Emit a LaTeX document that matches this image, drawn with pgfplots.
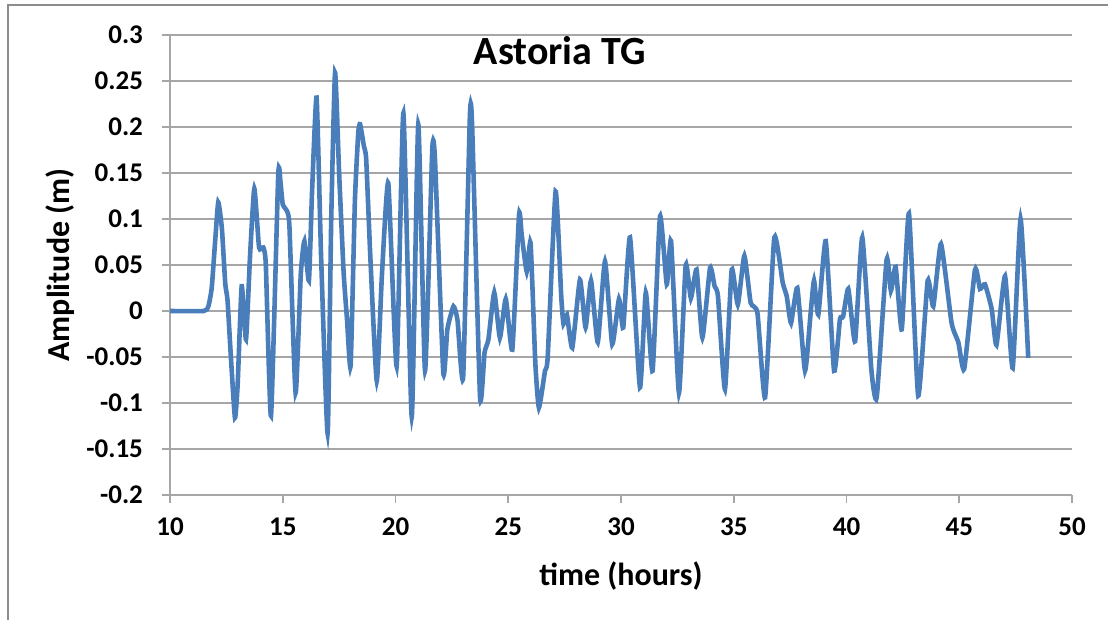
\documentclass[border=0pt]{standalone}
\usepackage{fontspec}
\setmainfont{Carlito}
\usepackage{pgfplots}
\pgfplotsset{compat=1.18}
\definecolor{xlblue}{HTML}{4A7EBB}
\definecolor{gridgray}{HTML}{A6A6A6}
\definecolor{framegray}{HTML}{8C8C8C}
\begin{document}
\begin{tikzpicture}
\begin{axis}[
    at={(0,0)}, anchor=south west,
    scale only axis,
    width=451pt, height=230pt,
    xmin=10, xmax=50, ymin=-0.2, ymax=0.3,
    xtick={10,15,...,50},
    ytick={-0.2,-0.15,...,0.31},
    ymajorgrids,
    major grid style={gridgray, line width=0.8pt},
    axis x line*=bottom, axis y line*=left,
    axis line style={gridgray, line width=0.8pt, -},
    tick style={gridgray, line width=0.8pt},
    tick align=outside, major tick length=4pt,
    /pgf/number format/assume math mode=true,
    /pgf/number format/fixed, /pgf/number format/precision=2,
    ticklabel style={font=\fontsize{13.5}{15}\selectfont\bfseries},
    xticklabel style={yshift=-4pt},
    yticklabel style={xshift=-6pt},
    xlabel={time (hours)}, ylabel={Amplitude (m)},
    label style={font=\fontsize{16}{19}\selectfont\bfseries},
    xlabel style={yshift=-6pt},
    ylabel style={yshift=-1pt},
    title={Astoria TG},
    title style={at={(0.432,0.94)}, anchor=center, font=\fontsize{20}{24}\selectfont\bfseries},
]
\addplot[xlblue, line width=2.3pt, smooth, tension=0.3] coordinates {
(10,0) (11.5,0) (11.7,0.005) (11.85,0.025) (12.0,0.075) (12.14,0.118) (12.3,0.09)
(12.45,0.03) (12.55,0.012) (12.7,-0.05) (12.88,-0.116) (13.0,-0.08) (13.18,0.027)
(13.37,-0.031) (13.55,0.06) (13.74,0.133) (13.95,0.069) (14.14,0.069) (14.25,0.05)
(14.48,-0.114) (14.80,0.148) (14.9,0.14) (15.0,0.116) (15.2,0.108) (15.3,0.09)
(15.57,-0.089) (15.8,0.04) (15.96,0.076) (16.16,0.033) (16.3,0.13) (16.50,0.232)
(16.7,0.06) (16.99,-0.133) (17.15,0.1) (17.32,0.259) (17.5,0.15) (17.7,0.042)
(17.85,-0.009) (18.01,-0.06) (18.2,0.12) (18.35,0.194) (18.43,0.203) (18.6,0.179)
(18.7,0.165) (18.9,0.05) (19.17,-0.076) (19.4,0.04) (19.68,0.139) (20.05,-0.06)
(20.35,0.215) (20.72,-0.115) (21.01,0.203) (21.31,-0.065) (21.63,0.175) (21.75,0.165)
(22.12,-0.067) (22.3,-0.02) (22.57,0.005) (22.75,-0.01) (23.0,-0.072) (23.3,0.213)
(23.4,0.2) (23.75,-0.094) (23.95,-0.045) (24.12,-0.031) (24.38,0.02) (24.63,-0.029)
(24.89,0.013) (25.18,-0.042) (25.48,0.105) (25.6,0.082) (25.82,0.043) (25.99,0.074)
(26.2,-0.056) (26.36,-0.105) (26.63,-0.065) (26.75,-0.05) (27.1,0.13) (27.35,0.016)
(27.45,-0.014) (27.6,-0.004) (27.84,-0.04) (28.18,0.034) (28.43,-0.018) (28.67,0.033)
(28.97,-0.034) (29.29,0.054) (29.61,-0.036) (29.91,0.013) (30.1,-0.018) (30.4,0.08)
(30.84,-0.083) (31.1,0.02) (31.4,-0.065) (31.73,0.103) (32.03,0.029) (32.22,0.076)
(32.57,-0.089) (32.87,0.05) (33.1,0.014) (33.35,0.045) (33.61,-0.029) (33.95,0.047)
(34.15,0.027) (34.3,0.016) (34.61,-0.085) (34.91,0.045) (35.18,0.007) (35.47,0.06)
(35.75,0.009) (36.05,-0.002) (36.39,-0.094) (36.8,0.08) (37.17,0.031) (37.35,0.016)
(37.54,-0.013) (37.82,0.025) (38.16,-0.065) (38.4,-0.005) (38.56,0.033) (38.75,-0.004)
(39.08,0.076) (39.45,-0.065) (39.71,-0.009) (39.85,-0.006) (40.08,0.024) (40.38,-0.033)
(40.70,0.08) (41.1,-0.063) (41.34,-0.094) (41.78,0.056) (41.97,0.022) (42.18,0.048)
(42.45,-0.02) (42.77,0.106) (43.18,-0.092) (43.6,0.033) (43.85,0.005) (44.19,0.073)
(44.66,-0.013) (44.96,-0.034) (45.22,-0.063) (45.7,0.045) (45.92,0.024) (46.14,0.029)
(46.44,0.002) (46.65,-0.037) (47.03,0.038) (47.37,-0.062) (47.72,0.1) (48.06,-0.051)
};
\end{axis}
% chart frame (top and left edges visible)
\draw[framegray, line width=1pt] (-81pt,-62.5pt) -- (-81pt,245pt) -- (469pt,245pt);
\pgfresetboundingbox
\path (-85pt,-62.5pt) rectangle (469pt,247.5pt);
\end{tikzpicture}
\end{document}
